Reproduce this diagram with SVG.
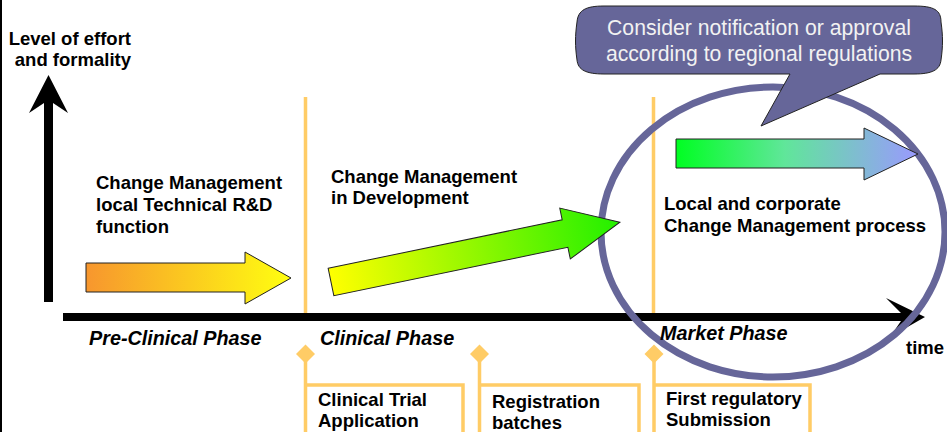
<svg xmlns="http://www.w3.org/2000/svg" width="947" height="432" viewBox="0 0 947 432">
<style>
.lbl{font-family:"Liberation Sans",Arial,sans-serif;font-weight:bold;font-size:18.5px;fill:#000}
.ph{font-family:"Liberation Sans",Arial,sans-serif;font-weight:bold;font-style:italic;font-size:19.8px;fill:#000}
.bub{font-family:"Liberation Sans",Arial,sans-serif;font-size:21.2px;fill:#f2f2f2}
.ol{stroke:#ffcc66;stroke-width:3.5;fill:none}
.dm{fill:#ffcc66}
.blk{stroke:#222;stroke-width:1}
</style>
<defs>
<linearGradient id="g1" x1="0" y1="0" x2="1" y2="0">
<stop offset="0" stop-color="#f7962e"/><stop offset="1" stop-color="#ffff10"/>
</linearGradient>
<linearGradient id="g2" x1="0" y1="0" x2="1" y2="0">
<stop offset="0" stop-color="#ffff00"/><stop offset="1" stop-color="#22f000"/>
</linearGradient>
<linearGradient id="g3" x1="0" y1="0" x2="1" y2="0">
<stop offset="0" stop-color="#00ff22"/><stop offset="0.45" stop-color="#60e69a"/><stop offset="1" stop-color="#9a99ff"/>
</linearGradient>
</defs>
<rect x="0" y="0" width="947" height="432" fill="#fff"/>
<rect x="0" y="0" width="2" height="432" fill="#000"/>

<g id="connectors">
<line class="ol" x1="305.5" y1="97" x2="305.5" y2="313"/>
<line class="ol" x1="653.5" y1="97" x2="653.5" y2="313"/>
<path class="ol" d="M305.5,354 V432 M305.5,385 H463 V432"/>
<path class="ol" d="M479.5,354 V432 M479.5,385 H639 V432"/>
<path class="ol" d="M654,354 V432 M654,385 H810 V432"/>
<path d="M305.5,344.5 L315,354 L305.5,363.5 L296,354 Z" class="dm"/>
<path d="M479.5,344.5 L489,354 L479.5,363.5 L470,354 Z" class="dm"/>
<path d="M654,344.5 L663.5,354 L654,363.5 L644.5,354 Z" class="dm"/>
</g>

<g id="y-axis">
<path d="M44,302 L44,103 L29,113 L48.5,75 L68,113 L53,103 L53,302 Z" fill="#000"/>
</g>
<g id="x-axis">
<path d="M63,313 L901,313 L886,298 L925,317 L890,337 L901,321 L63,321 Z" fill="#000"/>
</g>

<g id="market-ellipse">
<ellipse cx="773" cy="232" rx="172" ry="145" fill="none" stroke="#666699" stroke-width="7"/>
</g>

<g id="arrow-preclinical">
<path class="blk" d="M86,263 H245 V252 L291,278 L245,304 V292 H86 Z" fill="url(#g1)"/>
</g>
<g id="arrow-clinical" transform="translate(331,282) rotate(-11.7)">
<path class="blk" d="M0,-14 H239 V-26 L295,0 L239,26 V14 H0 Z" fill="url(#g2)"/>
</g>
<g id="arrow-market">
<path class="blk" d="M676,139 H864 V128 L918,154 L864,180 V168 H676 Z" fill="url(#g3)"/>
</g>

<g id="callout">
<path d="M604,6 H914 C934,6 941,10 941,22 C943,36 943,46 941,60 C940,70 932,74 914,74 H880 L761,126 L790,74 H604 C586,74 578,70 577,60 C575,46 575,36 577,22 C578,10 586,6 604,6 Z" fill="#666699" stroke="#222" stroke-width="1"/>
<text class="bub" x="759" y="35" text-anchor="middle">Consider notification or approval</text>
<text class="bub" x="759" y="61" text-anchor="middle">according to regional regulations</text>
</g>

<g id="axis-labels">
<text class="lbl" x="131" y="45" text-anchor="end">Level of effort</text>
<text class="lbl" x="131" y="66" text-anchor="end">and formality</text>
<text class="lbl" x="906" y="354">time</text>
</g>

<g id="label-preclinical">
<text class="lbl" x="96" y="189">Change Management</text>
<text class="lbl" x="96" y="211">local Technical R&amp;D</text>
<text class="lbl" x="96" y="233">function</text>
</g>
<g id="label-clinical">
<text class="lbl" x="331" y="183">Change Management</text>
<text class="lbl" x="331" y="204">in Development</text>
</g>
<g id="label-market">
<text class="lbl" x="664" y="210">Local and corporate</text>
<text class="lbl" x="664" y="232">Change Management process</text>
</g>

<g id="phases">
<text class="ph" x="89" y="345">Pre-Clinical Phase</text>
<text class="ph" x="320" y="345">Clinical Phase</text>
<text class="ph" x="660" y="340">Market Phase</text>
</g>

<g id="milestone-cta">
<text class="lbl" x="318" y="406">Clinical Trial</text>
<text class="lbl" x="318" y="427">Application</text>
</g>
<g id="milestone-batches">
<text class="lbl" x="492" y="408">Registration</text>
<text class="lbl" x="492" y="429">batches</text>
</g>
<g id="milestone-submission">
<text class="lbl" x="666" y="405">First regulatory</text>
<text class="lbl" x="666" y="426">Submission</text>
</g>
</svg>
